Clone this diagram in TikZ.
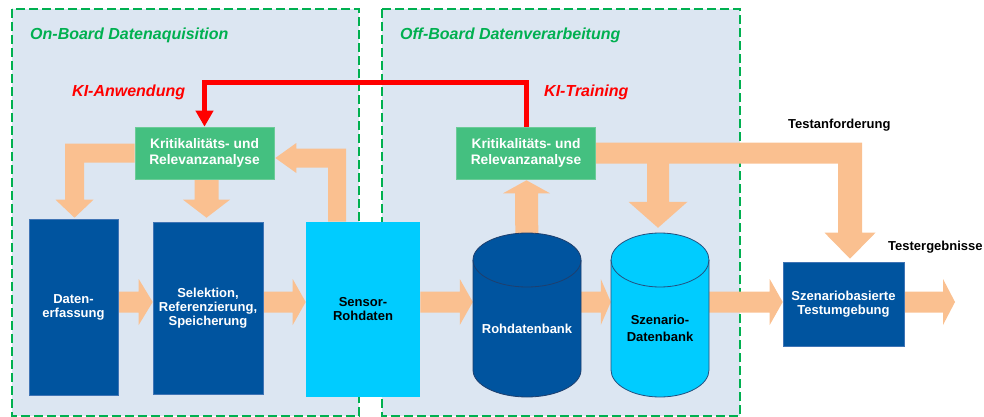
\documentclass[tikz,border=0pt]{standalone}
\usepackage{fontspec}
\setmainfont{Liberation Sans}
\usetikzlibrary{calc,arrows.meta}

\definecolor{panelbg}{HTML}{DCE6F2}
\definecolor{dashgreen}{HTML}{00B050}
\definecolor{rwthblue}{HTML}{00549F}
\definecolor{boxedge}{HTML}{3F74B5}
\definecolor{skycyan}{HTML}{00CCFF}
\definecolor{kgreen}{HTML}{44C080}
\definecolor{kgreenedge}{HTML}{6CCB98}
\definecolor{flowpeach}{HTML}{FAC090}
\definecolor{kired}{HTML}{FF0000}
\definecolor{drumedge}{HTML}{1E3F6E}
\definecolor{drumedgelight}{HTML}{24507F}

\pgfdeclarelayer{back}
\pgfdeclarelayer{arrowlayer}
\pgfsetlayers{back,arrowlayer,main}

\tikzset{
  panel/.style={draw=dashgreen, fill=panelbg, line width=2.6pt, dash pattern=on 9pt off 4pt},
  darkbox/.style={fill=rwthblue, draw=boxedge, line width=0.6pt, text=white,
    font=\fontsize{13}{14}\selectfont\bfseries, align=center, inner sep=0pt},
  lightbox/.style={darkbox, fill=skycyan, draw=none, text=black},
  greenbox/.style={fill=kgreen, draw=kgreenedge, line width=0.6pt, text=white,
    font=\fontsize{13.8}{16}\selectfont\bfseries, align=center, inner sep=0pt,
    minimum width=139, minimum height=52},
  drumtext/.style={font=\fontsize{13}{16.5}\selectfont\bfseries, align=center, inner sep=0pt},
  flow/.style={fill=flowpeach},
  areatitle/.style={text=dashgreen, font=\fontsize{16}{18}\selectfont\bfseries\itshape,
    anchor=base west, inner sep=0pt},
  kilabel/.style={areatitle, text=kired},
  plainlabel/.style={font=\fontsize{13}{15}\selectfont\bfseries, anchor=base west, inner sep=0pt},
  feedback/.style={draw=kired, line width=5pt, -{Triangle[width=17pt,length=16pt]}},
}

% horizontal block arrow: start point, tip point, head length
\newcommand\flowright[3]{%
  \path (#1) coordinate (fs) (#2) coordinate (ft);
  \fill[flow] ($(fs)+(0,-10.5)$) -- ($(ft)+(-#3,-10.5)$) -- ($(ft)+(-#3,-23)$) -- (ft)
    -- ($(ft)+(-#3,23)$) -- ($(ft)+(-#3,10.5)$) -- ($(fs)+(0,10.5)$) -- cycle;}

\begin{document}
\begin{tikzpicture}[x=1pt,y=-1pt]
\useasboundingbox (0,0) rectangle (984,417);

% the two dashed areas
\begin{pgfonlayer}{back}
  \draw[panel] (12,9) rectangle (359,416);
  \draw[panel] (382,9) rectangle (740,416);
\end{pgfonlayer}

% labels
\node[areatitle] (ontitle) at (30,39.5) {On-Board Datenaquisition};
\node[areatitle] (offtitle) at (400,39.5) {Off-Board Datenverarbeitung};
\node[kilabel] (kianw) at (72,96.5) {KI-Anwendung};
\node[kilabel] (kitrain) at (544,96.5) {KI-Training};
\node[plainlabel] (req) at (788,128.5) {Testanforderung};
\node[plainlabel] (res) at (888,250) {Testergebnisse};

% boxes
\node[darkbox, minimum width=89, minimum height=176] (dat) at (73.5,307) {Daten-\\erfassung};
\node[darkbox, minimum width=110, minimum height=172] (sel) at (208,308) {Selektion,\\Referenzierung,\\Speicherung};
\node[lightbox, minimum width=114, minimum height=175] (sen) at (363,309.5) {Sensor-\\Rohdaten};
\node[greenbox] (k1) at (204.5,153) {Kritikalitäts- und\\Relevanzanalyse};
\node[greenbox] (k2) at (526,153) {Kritikalitäts- und\\Relevanzanalyse};
\node[darkbox, minimum width=121, minimum height=84] (test) at (843.5,304) {Szenariobasierte\\Testumgebung};

% databases
\filldraw[fill=rwthblue, draw=drumedge, line width=0.8pt]
  (473,260) -- (473,370) arc[start angle=180, end angle=0, x radius=54, y radius=27]
  -- (581,260) arc[start angle=0, end angle=-180, x radius=54, y radius=27] -- cycle;
\draw[drumedge, line width=0.8pt] (473,260) arc[start angle=180, end angle=0, x radius=54, y radius=27];
\node[drumtext, text=white, minimum width=108, minimum height=137] (roh) at (527,328.5) {Rohdatenbank};

\filldraw[fill=skycyan, draw=drumedgelight, line width=0.8pt]
  (611,260) -- (611,370) arc[start angle=180, end angle=0, x radius=49, y radius=27]
  -- (709,260) arc[start angle=0, end angle=-180, x radius=49, y radius=27] -- cycle;
\draw[drumedgelight, line width=0.8pt] (611,260) arc[start angle=180, end angle=0, x radius=49, y radius=27];
\node[drumtext, text=black, minimum width=98, minimum height=137] (sz) at (660,328.5) {Szenario-\\Datenbank};

\coordinate (row) at (0,302);
\coordinate (out) at (955,302);

% block arrows
\begin{pgfonlayer}{arrowlayer}
  \flowright{dat.east |- row}{sel.west |- row}{14}
  \flowright{sel.east |- row}{sen.west |- row}{13}
  \flowright{sen.east |- row}{roh.west |- row}{13}
  \flowright{roh.east |- row}{sz.west |- row}{10}
  \flowright{sz.east |- row}{test.west |- row}{13}
  \flowright{test.east |- row}{out}{12}

  % analysis -> data capture
  \coordinate (t1) at ($(dat.north)+(1,-1)$);
  \coordinate (c1) at (t1 |- k1.west);
  \fill[flow] ($(k1.west)+(0,-9.5)$) -- ($(c1)+(-9.5,-9.5)$) -- ($(t1)+(-9.5,-18)$)
    -- ($(t1)+(-19,-18)$) -- (t1) -- ($(t1)+(19,-18)$) -- ($(t1)+(9.5,-18)$)
    -- ($(c1)+(9.5,9.5)$) -- ($(k1.west)+(0,9.5)$) -- cycle;

  % analysis -> selection
  \coordinate (t2) at ($(sel.north)+(-1.5,-4)$);
  \coordinate (c2) at (t2 |- k1.south);
  \fill[flow] ($(c2)+(-12,0)$) -- ($(t2)+(-12,-18)$) -- ($(t2)+(-23.5,-18)$) -- (t2)
    -- ($(t2)+(23.5,-18)$) -- ($(t2)+(12,-18)$) -- ($(c2)+(12,0)$) -- cycle;

  % raw sensor data -> analysis
  \coordinate (s3) at ($(sen.north)+(-26,0)$);
  \coordinate (t3) at ($(k1.east)+(1,5)$);
  \coordinate (c3) at (s3 |- t3);
  \fill[flow] ($(s3)+(-9,0)$) -- ($(c3)+(-9,9.5)$) -- ($(t3)+(21,9.5)$) -- ($(t3)+(21,15)$)
    -- (t3) -- ($(t3)+(21,-15)$) -- ($(t3)+(21,-9.5)$) -- ($(c3)+(9,-9.5)$)
    -- ($(s3)+(9,0)$) -- cycle;

  % raw database -> analysis
  \coordinate (t4) at ($(k2.south)+(0.5,1)$);
  \fill[flow] ($(roh.north)+(-11.5,0)$) -- ($(t4)+(-11.5,13)$) -- ($(t4)+(-23.5,13)$) -- (t4)
    -- ($(t4)+(23.5,13)$) -- ($(t4)+(11.5,13)$) -- ($(roh.north)+(11.5,0)$) -- cycle;

  % analysis -> test environment, with branch to the scenario database
  \coordinate (tA) at ($(test.north)+(6.5,-3)$);
  \coordinate (tB) at ($(sz.north)+(-2,-32)$);
  \coordinate (cA) at (tA |- k2.east);
  \coordinate (cB) at (tB |- k2.east);
  \fill[flow] ($(k2.east)+(0,-10.5)$) -- ($(cA)+(12,-10.5)$) -- ($(tA)+(12,-26)$)
    -- ($(tA)+(25.5,-26)$) -- (tA) -- ($(tA)+(-25.5,-26)$) -- ($(tA)+(-12,-26)$)
    -- ($(cA)+(-12,10.5)$) -- ($(cB)+(11,10.5)$) -- ($(tB)+(11,-26)$)
    -- ($(tB)+(29.5,-26)$) -- (tB) -- ($(tB)+(-29.5,-26)$) -- ($(tB)+(-11,-26)$)
    -- ($(cB)+(-11,10.5)$) -- ($(k2.east)+(0,10.5)$) -- cycle;
\end{pgfonlayer}

% trained model fed back on board
\draw[feedback] (k2.north) -- ++(0,-44) -| (k1.north);

\end{tikzpicture}
\end{document}
